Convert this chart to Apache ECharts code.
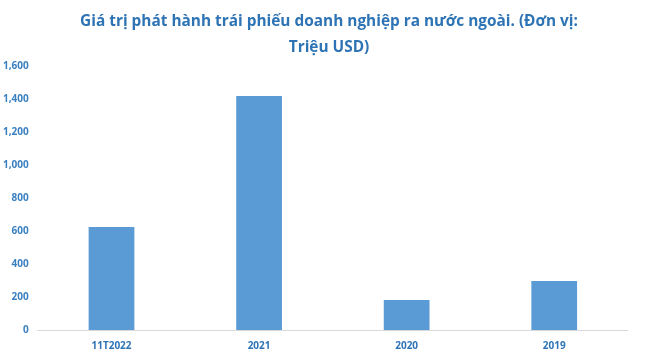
<!DOCTYPE html>
<html><head><meta charset="utf-8">
<script src="https://cdn.jsdelivr.net/npm/echarts@6/dist/echarts.min.js"></script>
<style>html,body{margin:0;padding:0;background:#fff}#c{width:658px;height:354px}</style>
</head><body><div id="c"></div>
<script>
const titleText = "Giá trị phát hành trái phiếu doanh nghiệp ra nước ngoài. (Đơn vị:\nTriệu USD)";
const categories = ["11T2022", "2021", "2020", "2019"];
const values = [624, 1418, 182, 297];
const yMin = 0, yMax = 1600, yStep = 200;

const chart = echarts.init(document.getElementById('c'));
chart.setOption({
  animation: false,
  title: {
    text: titleText, left: 'center', top: 4,
    textStyle: {color: '#2e74b5', fontFamily: 'Open Sans', fontWeight: 'bold', fontSize: 15.4, lineHeight: 26}
  },
  grid: {left: 37, right: 30, top: 66, bottom: 24},
  xAxis: {
    type: 'category', data: categories,
    axisLine: {lineStyle: {color: '#d9d9d9'}}, axisTick: {show: false},
    axisLabel: {color: '#2e74b5', fontWeight: 'bold', fontSize: 10, fontFamily: 'Open Sans', margin: 11}
  },
  yAxis: {
    type: 'value', min: yMin, max: yMax, interval: yStep,
    splitLine: {show: false}, axisLine: {show: false}, axisTick: {show: false},
    axisLabel: {color: '#3a7fc0', fontWeight: 'bold', fontSize: 10, fontFamily: 'Open Sans', margin: 9,
      formatter: v => v.toLocaleString('en-US')}
  },
  series: [{type: 'bar', data: values, barWidth: '31%', itemStyle: {color: '#5b9bd5'}}]
});
</script></body></html>
